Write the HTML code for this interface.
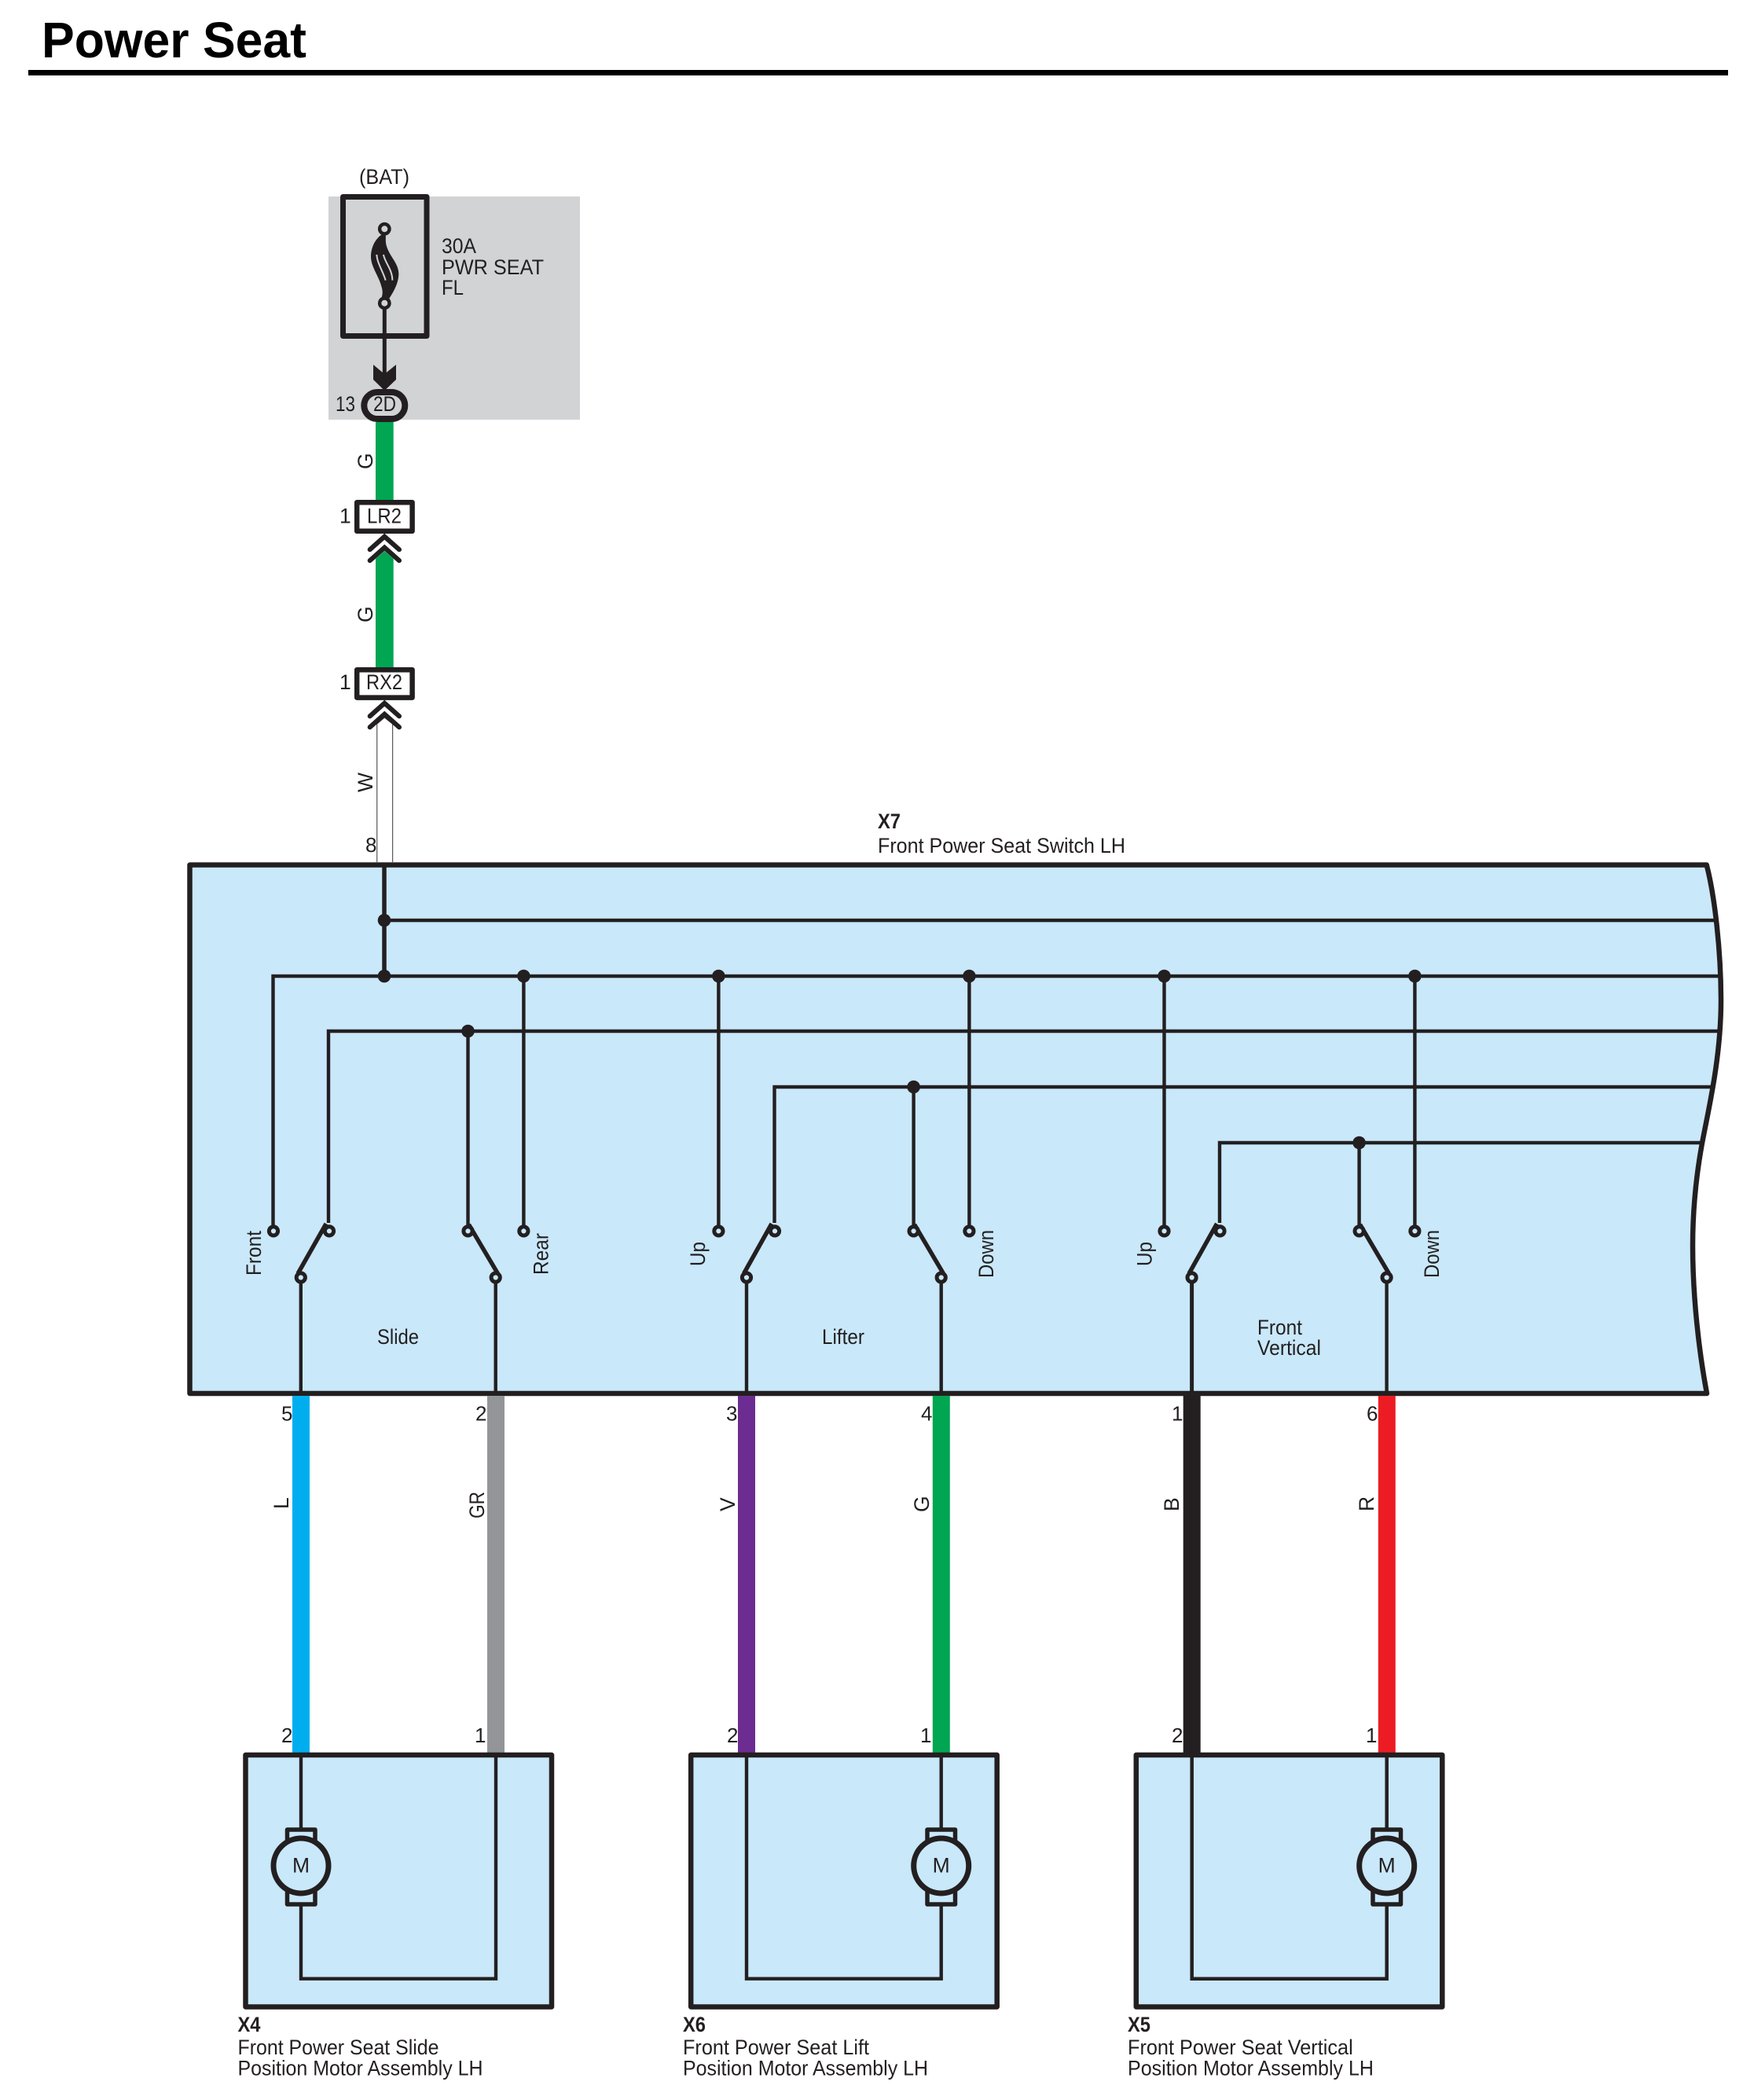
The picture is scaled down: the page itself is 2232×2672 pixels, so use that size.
<!DOCTYPE html>
<html><head><meta charset="utf-8"><title>Power Seat</title>
<style>
html,body{margin:0;padding:0;background:#fff}
svg{display:block}
text{font-family:"Liberation Sans",Arial,sans-serif;fill:#231f20;font-size:26.5px}
.s{font-size:26px}
.w{stroke:#231f20;stroke-width:4.4;fill:none}
.t{stroke:#231f20;stroke-width:5;fill:#c9e8fa}
.b{stroke:#231f20;stroke-width:5.5;fill:none}
.d{fill:#231f20}
.bx{stroke:#231f20;stroke-width:6.5;fill:#c9e8fa;stroke-linejoin:round}
.c{stroke:#231f20;stroke-width:6;fill:none;stroke-linecap:round;stroke-linejoin:miter}
</style></head><body>
<svg xmlns="http://www.w3.org/2000/svg" width="2232" height="2672" viewBox="0 0 2232 2672">
<rect width="2232" height="2672" fill="#fff"/>
<!-- title -->
<text x="53" y="73" style="font-size:64px;font-weight:bold;fill:#000" textLength="337" lengthAdjust="spacingAndGlyphs">Power Seat</text>
<rect x="36" y="89" width="2163" height="7" fill="#000"/>

<!-- fuse block -->
<rect x="418" y="250" width="320" height="284" fill="#d1d3d4"/>
<rect x="436.5" y="250.5" width="106.5" height="177" fill="none" stroke="#231f20" stroke-width="7" stroke-linejoin="round"/>
<text x="457" y="234" textLength="64" lengthAdjust="spacingAndGlyphs">(BAT)</text>
<text x="562" y="322" textLength="44" lengthAdjust="spacingAndGlyphs">30A</text>
<text x="562" y="349" textLength="130" lengthAdjust="spacingAndGlyphs">PWR SEAT</text>
<text x="562" y="375" textLength="28" lengthAdjust="spacingAndGlyphs">FL</text>
<g transform="translate(400,220) scale(.33333)">
<path class="d" d="M262 232C232 250 216 285 216 320C216 360 248 395 258 440C262 455 260 470 254 482L284 482C302 455 322 420 322 385C322 345 288 320 276 280C270 262 274 245 272 232Z"/>
<path d="M238 312C240 345 262 375 272 410" stroke="#d1d3d4" stroke-width="6" fill="none"/>
<path d="M264 312C268 340 298 368 298 410" stroke="#d1d3d4" stroke-width="6" fill="none"/>
</g>
<circle cx="489.3" cy="291.3" r="6.2" fill="#d1d3d4" stroke="#231f20" stroke-width="4.4"/>
<circle cx="489.3" cy="385.7" r="6.2" fill="#d1d3d4" stroke="#231f20" stroke-width="4.4"/>
<line x1="489.3" y1="392" x2="489.3" y2="490" stroke="#231f20" stroke-width="5"/>
<polygon class="d" points="475,464 489.3,476 504,464 504,483 489.3,497 475,483"/>
<rect x="463.3" y="499" width="52" height="34" rx="17" ry="17" fill="none" stroke="#231f20" stroke-width="8"/>
<text x="475" y="523" textLength="29" lengthAdjust="spacingAndGlyphs">2D</text>
<text x="427" y="523" textLength="25" lengthAdjust="spacingAndGlyphs">13</text>

<!-- upper harness -->
<rect x="478" y="537" width="22.7" height="99" fill="#00a651"/>
<text transform="translate(474,597) rotate(-90)">G</text>
<rect x="454.2" y="639.2" width="70.4" height="36.6" fill="#fff" stroke="#231f20" stroke-width="6.5" stroke-linejoin="round"/>
<text x="467" y="665.5" textLength="44" lengthAdjust="spacingAndGlyphs">LR2</text>
<text x="432" y="665.5">1</text>
<polygon points="478,711 489.3,701 500.7,711 500.7,849 478,849" fill="#00a651"/>
<polyline class="c" points="470.7,699.3 489.3,682.7 508,699.3"/>
<polyline class="c" points="470.7,713.3 489.3,696.7 508,713.3"/>
<text transform="translate(474,792) rotate(-90)">G</text>
<rect x="454.2" y="852.2" width="70.4" height="35.4" fill="#fff" stroke="#231f20" stroke-width="6.5" stroke-linejoin="round"/>
<text x="466" y="877" textLength="46" lengthAdjust="spacingAndGlyphs">RX2</text>
<text x="432" y="877">1</text>
<polyline points="479.7,1097 479.7,921 489.3,913 499.6,921 499.6,1097" fill="#fff" stroke="#58595b" stroke-width="1.2"/>
<polyline class="c" points="470.7,911.3 489.3,894.7 508,911.3"/>
<polyline class="c" points="470.7,925.3 489.3,908.7 508,925.3"/>
<text transform="translate(474,1008) rotate(-90)">W</text>
<text x="465" y="1084" class="s">8</text>

<!-- X7 labels -->
<text x="1117" y="1054" style="font-weight:bold" textLength="29" lengthAdjust="spacingAndGlyphs">X7</text>
<text x="1117" y="1085" textLength="315" lengthAdjust="spacingAndGlyphs">Front Power Seat Switch LH</text>

<!-- main panel -->
<path d="M241.5 1100.5L2171.7 1100.5C2182 1140 2190 1210 2190 1273C2190 1350 2172 1420 2165 1460C2158 1500 2154 1540 2154 1585C2154 1650 2162 1720 2172 1773L241.5 1773Z" fill="#c9e8fa"/>
<!-- horizontal buses -->
<line class="w" x1="489" y1="1171" x2="2182" y2="1171"/>
<path class="w" d="M347.5 1566V1242H2190"/>
<path class="w" d="M418 1556V1312H2190"/>
<path class="w" d="M985.5 1556V1383H2182"/>
<path class="w" d="M1552 1556V1454H2168"/>
<!-- feed -->
<line x1="489" y1="1100" x2="489" y2="1242" stroke="#231f20" stroke-width="5.5"/>
<!-- verticals -->
<line class="w" x1="595.5" y1="1312" x2="595.5" y2="1560"/>
<line class="w" x1="666.4" y1="1242" x2="666.4" y2="1560"/>
<line class="w" x1="914.4" y1="1242" x2="914.4" y2="1560"/>
<line class="w" x1="1162.6" y1="1383" x2="1162.6" y2="1560"/>
<line class="w" x1="1233.4" y1="1242" x2="1233.4" y2="1560"/>
<line class="w" x1="1481.5" y1="1242" x2="1481.5" y2="1560"/>
<line class="w" x1="1729.6" y1="1454" x2="1729.6" y2="1560"/>
<line class="w" x1="1800.4" y1="1242" x2="1800.4" y2="1560"/>
<!-- bottom stubs -->
<line class="w" x1="382.8" y1="1630" x2="382.8" y2="1773"/>
<line class="w" x1="630.7" y1="1630" x2="630.7" y2="1773"/>
<line class="w" x1="950" y1="1630" x2="950" y2="1773"/>
<line class="w" x1="1197.7" y1="1630" x2="1197.7" y2="1773"/>
<line x1="1516.6" y1="1630" x2="1516.6" y2="1773" stroke="#231f20" stroke-width="5"/>
<line class="w" x1="1764.6" y1="1630" x2="1764.6" y2="1773"/>
<!-- blades -->
<line class="b" x1="379" y1="1620.5" x2="415" y2="1557"/>
<line class="b" x1="596.5" y1="1558" x2="633.5" y2="1620.5"/>
<line class="b" x1="946.5" y1="1620.5" x2="982" y2="1557"/>
<line class="b" x1="1163.6" y1="1558" x2="1200.5" y2="1620.5"/>
<line class="b" x1="1513" y1="1620.5" x2="1548.5" y2="1557"/>
<line class="b" x1="1730.6" y1="1558" x2="1767.5" y2="1620.5"/>
<!-- terminals -->
<circle class="t" cx="348" cy="1566.4" r="5.6"/><circle class="t" cx="419" cy="1566.4" r="5.6"/>
<circle class="t" cx="595.5" cy="1566.4" r="5.6"/><circle class="t" cx="666.4" cy="1566.4" r="5.6"/>
<circle class="t" cx="914.4" cy="1566.4" r="5.6"/><circle class="t" cx="986" cy="1566.4" r="5.6"/>
<circle class="t" cx="1162.6" cy="1566.4" r="5.6"/><circle class="t" cx="1233.4" cy="1566.4" r="5.6"/>
<circle class="t" cx="1481.5" cy="1566.4" r="5.6"/><circle class="t" cx="1552.5" cy="1566.4" r="5.6"/>
<circle class="t" cx="1729.6" cy="1566.4" r="5.6"/><circle class="t" cx="1800.4" cy="1566.4" r="5.6"/>
<circle class="t" cx="382.8" cy="1625.5" r="5.6"/><circle class="t" cx="630.7" cy="1625.5" r="5.6"/>
<circle class="t" cx="950" cy="1625.5" r="5.6"/><circle class="t" cx="1197.7" cy="1625.5" r="5.6"/>
<circle class="t" cx="1516.6" cy="1625.5" r="5.6"/><circle class="t" cx="1764.6" cy="1625.5" r="5.6"/>
<!-- dots -->
<circle class="d" cx="489" cy="1171" r="8.3"/><circle class="d" cx="489" cy="1242" r="8.3"/>
<circle class="d" cx="666.4" cy="1242" r="8.3"/><circle class="d" cx="914.4" cy="1242" r="8.3"/>
<circle class="d" cx="1233.4" cy="1242" r="8.3"/><circle class="d" cx="1481.5" cy="1242" r="8.3"/>
<circle class="d" cx="1800.4" cy="1242" r="8.3"/><circle class="d" cx="595.5" cy="1312" r="8.3"/>
<circle class="d" cx="1162.6" cy="1383" r="8.3"/><circle class="d" cx="1729.6" cy="1454" r="8.3"/>
<!-- panel outline -->
<path d="M241.5 1100.5L2171.7 1100.5C2182 1140 2190 1210 2190 1273C2190 1350 2172 1420 2165 1460C2158 1500 2154 1540 2154 1585C2154 1650 2162 1720 2172 1773L241.5 1773Z" fill="none" stroke="#231f20" stroke-width="6.5" stroke-linejoin="round"/>
<!-- panel text -->
<text x="480" y="1710" textLength="53" lengthAdjust="spacingAndGlyphs">Slide</text>
<text x="1046" y="1710" textLength="54" lengthAdjust="spacingAndGlyphs">Lifter</text>
<text x="1600" y="1698" textLength="57" lengthAdjust="spacingAndGlyphs">Front</text>
<text x="1600" y="1724" textLength="81" lengthAdjust="spacingAndGlyphs">Vertical</text>
<text transform="translate(332,1623) rotate(-90)" textLength="57" lengthAdjust="spacingAndGlyphs">Front</text>
<text transform="translate(697.6,1622) rotate(-90)" textLength="53" lengthAdjust="spacingAndGlyphs">Rear</text>
<text transform="translate(897,1611) rotate(-90)" textLength="31" lengthAdjust="spacingAndGlyphs">Up</text>
<text transform="translate(1264,1626) rotate(-90)" textLength="61" lengthAdjust="spacingAndGlyphs">Down</text>
<text transform="translate(1465.5,1611) rotate(-90)" textLength="31" lengthAdjust="spacingAndGlyphs">Up</text>
<text transform="translate(1831,1626) rotate(-90)" textLength="61" lengthAdjust="spacingAndGlyphs">Down</text>

<!-- thick harness wires -->
<rect x="372" y="1776" width="22" height="458" fill="#00aeef"/>
<rect x="620" y="1776" width="22" height="458" fill="#939598"/>
<rect x="939" y="1776" width="22" height="458" fill="#6c2c91"/>
<rect x="1186.8" y="1776" width="22" height="458" fill="#00a651"/>
<rect x="1505.7" y="1776" width="22" height="458" fill="#231f20"/>
<rect x="1753.8" y="1776" width="22" height="458" fill="#ed1c24"/>
<!-- pin numbers -->
<text x="358" y="1807.5" class="s">5</text><text x="605" y="1807.5" class="s">2</text>
<text x="924" y="1807.5" class="s">3</text><text x="1172" y="1807.5" class="s">4</text>
<text x="1491" y="1807.5" class="s">1</text><text x="1739" y="1807.5" class="s">6</text>
<text x="358" y="2217" class="s">2</text><text x="604" y="2217" class="s">1</text>
<text x="925" y="2217" class="s">2</text><text x="1171" y="2217" class="s">1</text>
<text x="1491" y="2217" class="s">2</text><text x="1738" y="2217" class="s">1</text>
<!-- wire letters -->
<text transform="translate(367,1920) rotate(-90)">L</text>
<text transform="translate(616,1932) rotate(-90)" textLength="34" lengthAdjust="spacingAndGlyphs">GR</text>
<text transform="translate(935,1923) rotate(-90)">V</text>
<text transform="translate(1182,1924) rotate(-90)">G</text>
<text transform="translate(1500,1923) rotate(-90)">B</text>
<text transform="translate(1748,1923) rotate(-90)">R</text>

<!-- X4 -->
<rect class="bx" x="312.5" y="2233" width="389.5" height="320.5"/>
<path class="w" d="M383 2233V2517.7H631V2233"/>
<rect x="365.5" y="2328" width="35.5" height="95" fill="#c9e8fa" stroke="#231f20" stroke-width="5.5" stroke-linejoin="round"/>
<circle cx="383" cy="2374" r="35" fill="#c9e8fa" stroke="#231f20" stroke-width="7"/>
<text x="383" y="2382.5" text-anchor="middle">M</text>
<text x="302.5" y="2585" style="font-weight:bold" textLength="29" lengthAdjust="spacingAndGlyphs">X4</text>
<text x="302.5" y="2614" textLength="256" lengthAdjust="spacingAndGlyphs">Front Power Seat Slide</text>
<text x="302.5" y="2640.7" textLength="312" lengthAdjust="spacingAndGlyphs">Position Motor Assembly LH</text>

<!-- X6 -->
<rect class="bx" x="879.2" y="2233" width="389.5" height="320.5"/>
<path class="w" d="M950 2233V2517.7H1197.7V2233"/>
<rect x="1180" y="2328" width="35.5" height="95" fill="#c9e8fa" stroke="#231f20" stroke-width="5.5" stroke-linejoin="round"/>
<circle cx="1197.7" cy="2374" r="35" fill="#c9e8fa" stroke="#231f20" stroke-width="7"/>
<text x="1197.7" y="2382.5" text-anchor="middle">M</text>
<text x="869" y="2585" style="font-weight:bold" textLength="29" lengthAdjust="spacingAndGlyphs">X6</text>
<text x="869" y="2614" textLength="237" lengthAdjust="spacingAndGlyphs">Front Power Seat Lift</text>
<text x="869" y="2640.7" textLength="312" lengthAdjust="spacingAndGlyphs">Position Motor Assembly LH</text>

<!-- X5 -->
<rect class="bx" x="1445.8" y="2233" width="389.5" height="320.5"/>
<path d="M1516.7 2233V2517.7H1764.7V2233" fill="none" stroke="#231f20" stroke-width="4.5"/>
<rect x="1747" y="2328" width="35.5" height="95" fill="#c9e8fa" stroke="#231f20" stroke-width="5.5" stroke-linejoin="round"/>
<circle cx="1764.7" cy="2374" r="35" fill="#c9e8fa" stroke="#231f20" stroke-width="7"/>
<text x="1764.7" y="2382.5" text-anchor="middle">M</text>
<text x="1435" y="2585" style="font-weight:bold" textLength="29" lengthAdjust="spacingAndGlyphs">X5</text>
<text x="1435" y="2614" textLength="286.7" lengthAdjust="spacingAndGlyphs">Front Power Seat Vertical</text>
<text x="1435" y="2640.7" textLength="313" lengthAdjust="spacingAndGlyphs">Position Motor Assembly LH</text>
</svg>
</body></html>
